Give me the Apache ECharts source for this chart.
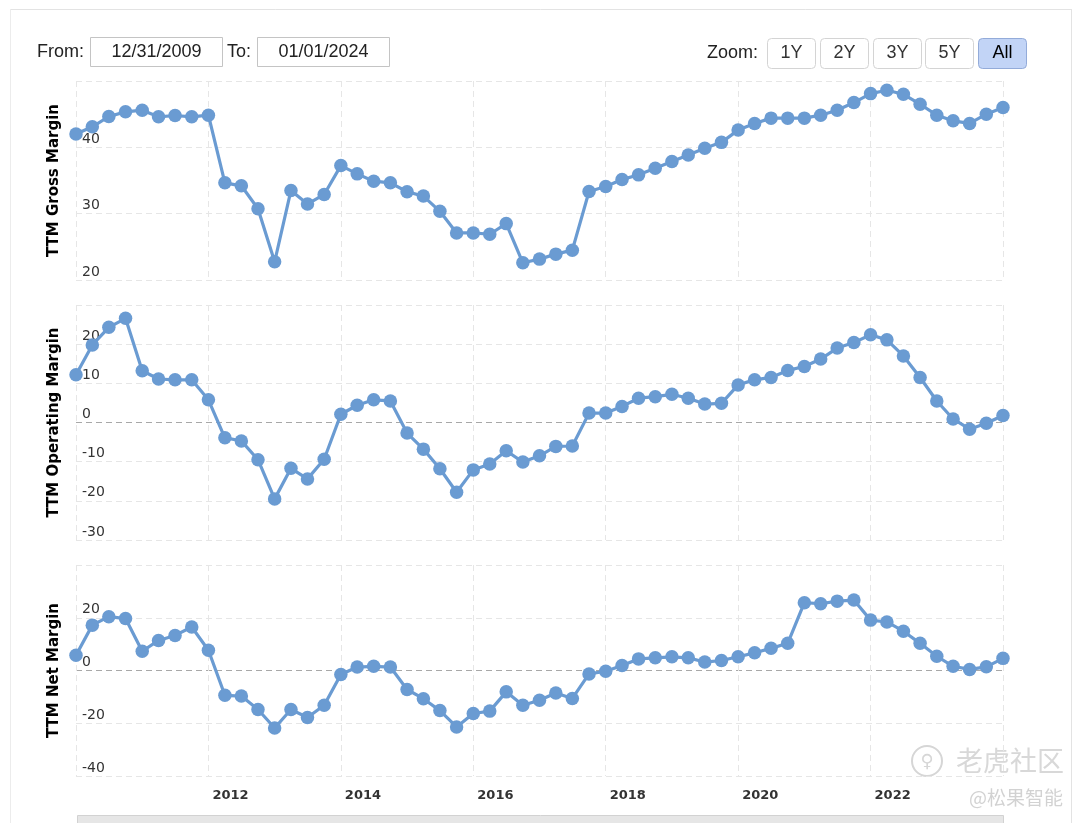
<!DOCTYPE html>
<html><head><meta charset="utf-8">
<script src="https://cdn.jsdelivr.net/npm/echarts@6/dist/echarts.min.js"></script>
<style>html,body{margin:0;padding:0;background:#fff}#c{width:1080px;height:823px}</style>
</head><body><div id="c"></div>
<script>
// Quarter-end dates
const dates = [
'2009-12-31',
'2010-03-31','2010-06-30','2010-09-30','2010-12-31',
'2011-03-31','2011-06-30','2011-09-30','2011-12-31',
'2012-03-31','2012-06-30','2012-09-30','2012-12-31',
'2013-03-31','2013-06-30','2013-09-30','2013-12-31',
'2014-03-31','2014-06-30','2014-09-30','2014-12-31',
'2015-03-31','2015-06-30','2015-09-30','2015-12-31',
'2016-03-31','2016-06-30','2016-09-30','2016-12-31',
'2017-03-31','2017-06-30','2017-09-30','2017-12-31',
'2018-03-31','2018-06-30','2018-09-30','2018-12-31',
'2019-03-31','2019-06-30','2019-09-30','2019-12-31',
'2020-03-31','2020-06-30','2020-09-30','2020-12-31',
'2021-03-31','2021-06-30','2021-09-30','2021-12-31',
'2022-03-31','2022-06-30','2022-09-30','2022-12-31',
'2023-03-31','2023-06-30','2023-09-30','2023-12-31'
];
const grossMargin = [
42.0,
43.1,44.65,45.35,45.6,
44.6,44.8,44.6,44.85,
34.65,34.2,30.75,22.75,
33.5,31.45,32.9,37.25,
36.0,34.9,34.65,33.3,
32.65,30.35,27.1,27.1,
26.9,28.5,22.6,23.15,
23.9,24.5,33.35,34.1,
35.15,35.85,36.85,37.85,
38.85,39.85,40.75,42.6,
43.6,44.4,44.4,44.4,
44.85,45.6,46.75,48.1,
48.6,48.0,46.5,44.85,
44.0,43.6,45.0,46.0
];
const operatingMargin = [
12.2,
19.8,24.3,26.6,13.2,
11.1,10.9,10.9,5.8,
-3.9,-4.7,-9.5,-19.5,
-11.7,-14.4,-9.4,2.1,
4.4,5.8,5.5,-2.7,
-6.8,-11.8,-17.8,-12.1,
-10.6,-7.2,-10.1,-8.5,
-6.1,-6.0,2.4,2.4,
4.1,6.2,6.6,7.2,
6.2,4.7,4.9,9.6,
10.9,11.5,13.3,14.3,
16.2,19.0,20.4,22.4,
21.1,17.0,11.5,5.5,
0.9,-1.7,-0.2,1.8
];
const netMargin = [
5.8,
17.2,20.4,19.7,7.3,
11.4,13.3,16.5,7.7,
-9.4,-9.7,-14.8,-21.8,
-14.8,-17.8,-13.2,-1.5,
1.3,1.6,1.3,-7.2,
-10.7,-15.2,-21.4,-16.3,
-15.4,-8.1,-13.2,-11.3,
-8.5,-10.6,-1.3,-0.3,
1.9,4.4,4.8,5.2,
4.8,3.2,3.8,5.2,
6.7,8.4,10.3,25.7,
25.3,26.3,26.7,19.1,
18.4,14.9,10.3,5.4,
1.6,0.4,1.4,4.6
];
const panelNames = ['TTM Gross Margin','TTM Operating Margin','TTM Net Margin'];
const yRanges = [[20,50,10],[-30,30,10],[-40,40,20]];
const zoomButtons = ['1Y','2Y','3Y','5Y','All'];
const fromDate = '12/31/2009';
const toDate = '01/01/2024';
const watermark1 = '老虎社区';
const watermark2 = '@松果智能';

// decimal year at the end of the given day
function toYear(s){
  const p = s.split('-').map(Number);
  const start = Date.UTC(p[0],0,1), end = Date.UTC(p[0]+1,0,1);
  return p[0] + (Date.UTC(p[0],p[1]-1,p[2]+1) - start)/(end-start);
}
const seriesData = [grossMargin, operatingMargin, netMargin];
const LINE = '#6a9bd2';
const GRIDC = '#e6e6e6';
const ZEROC = '#a8a8a8';
const grids = [
  {left:76, width:927, top:81, height:199},
  {left:76, width:927, top:305, height:235},
  {left:76, width:927, top:565, height:211}
];
grids.forEach(g=>{g.outerBoundsMode='none'; g.containLabel=false;});

const xAxes = grids.map((g,i)=>({
  type:'value', gridIndex:i, min:2010, max:2024, interval:2,
  axisLine:{show:false}, axisTick:{show:false},
  splitLine:{show:true, lineStyle:{color:GRIDC, type:[6,4], width:1}},
  axisLabel:{show:i===2, showMinLabel:false, showMaxLabel:false,
    formatter:v=>String(v), align:'left', padding:[0,0,0,4], margin:13,
    fontFamily:'DejaVu Sans', fontWeight:'bold', fontSize:13, color:'#333'}
}));
const yAxes = yRanges.map((r,i)=>{
  const n = Math.round((r[1]-r[0])/r[2])+1;
  const cols = [];
  for(let k=0;k<n;k++){ const v=r[0]+k*r[2]; cols.push(v===0?ZEROC:GRIDC); }
  return {
    type:'value', gridIndex:i, min:r[0], max:r[1], interval:r[2],
    name:panelNames[i], nameLocation:'middle', nameGap:14, nameRotate:90,
    nameTextStyle:{fontFamily:'DejaVu Sans', fontWeight:'bold', fontSize:15, color:'#000'},
    axisLine:{show:false}, axisTick:{show:false},
    splitLine:{show:true, lineStyle:{color:cols, type:[6,4], width:1}},
    axisLabel:{inside:true, showMaxLabel:false, margin:6, verticalAlign:'bottom',
      fontFamily:'DejaVu Sans', fontSize:14, color:'#333', padding:[0,0,1,0]}
  };
});
const series = seriesData.map((arr,i)=>({
  type:'line', xAxisIndex:i, yAxisIndex:i,
  data: dates.map((d,j)=>[toYear(d), arr[j]]),
  symbol:'circle', symbolSize:13.5, showSymbol:true, clip:false,
  lineStyle:{color:LINE, width:3.2}, itemStyle:{color:LINE},
  z:3
}));

const graphics = [];
// outer frame
graphics.push({type:'line', shape:{x1:10,y1:9.5,x2:1071,y2:9.5}, style:{stroke:'#e3e3e3', lineWidth:1}, silent:true});
graphics.push({type:'line', shape:{x1:10.5,y1:9,x2:10.5,y2:823}, style:{stroke:'#ececec', lineWidth:1}, silent:true});
graphics.push({type:'line', shape:{x1:1071.5,y1:9,x2:1071.5,y2:823}, style:{stroke:'#e3e3e3', lineWidth:1}, silent:true});
const ctlFont = '18px "Liberation Sans", Arial, sans-serif';
graphics.push({type:'text', style:{text:'From:', x:37, y:52, font:ctlFont, fill:'#222', align:'left', verticalAlign:'middle'}});
graphics.push({type:'rect', shape:{x:90.5,y:37.5,width:132,height:29}, style:{fill:'#fff', stroke:'#c4c4c4', lineWidth:1}});
graphics.push({type:'text', style:{text:fromDate, x:156.5, y:52, font:ctlFont, fill:'#222', align:'center', verticalAlign:'middle'}});
graphics.push({type:'text', style:{text:'To:', x:227, y:52, font:ctlFont, fill:'#222', align:'left', verticalAlign:'middle'}});
graphics.push({type:'rect', shape:{x:257.5,y:37.5,width:132,height:29}, style:{fill:'#fff', stroke:'#c4c4c4', lineWidth:1}});
graphics.push({type:'text', style:{text:toDate, x:323.5, y:52, font:ctlFont, fill:'#222', align:'center', verticalAlign:'middle'}});
graphics.push({type:'text', style:{text:'Zoom:', x:707, y:53, font:ctlFont, fill:'#222', align:'left', verticalAlign:'middle'}});
const bx = [767.5, 820.5, 873.5, 925.5, 978.5];
zoomButtons.forEach((b,k)=>{
  const sel = b==='All';
  graphics.push({type:'rect', shape:{x:bx[k], y:38.5, width:48, height:30, r:4},
    style:{fill: sel?'#c2d4f6':'#fff', stroke: sel?'#93abd9':'#d4d4d4', lineWidth:1}});
  graphics.push({type:'text', style:{text:b, x:bx[k]+24, y:53.5, font:ctlFont, fill: sel?'#000':'#333', align:'center', verticalAlign:'middle'}});
});
// navigator scrollbar strip
graphics.push({type:'rect', shape:{x:77.5, y:815.5, width:926, height:10}, style:{fill:'#e6e6e6', stroke:'#d2d2d2', lineWidth:1}});
// watermark
graphics.push({type:'circle', shape:{cx:927, cy:761, r:15}, style:{fill:'none', stroke:'#d6d6d6', lineWidth:2}});
graphics.push({type:'text', style:{text:'\u2640', x:927, y:762, font:'18px "DejaVu Sans"', fill:'#d6d6d6', align:'center', verticalAlign:'middle'}});
graphics.push({type:'text', style:{text:watermark1, x:1010, y:761, font:'27px "Noto Sans CJK SC"', fill:'#d8d8d8', align:'center', verticalAlign:'middle'}});
graphics.push({type:'text', style:{text:watermark2, x:1016, y:798, font:'19px "Noto Sans CJK SC"', fill:'#d2d2d2', align:'center', verticalAlign:'middle'}});

const chart = echarts.init(document.getElementById('c'), null, {renderer:'canvas'});
chart.setOption({
  animation:false,
  backgroundColor:'#fff',
  grid:grids, xAxis:xAxes, yAxis:yAxes, series:series,
  graphic:{elements:graphics}
});
</script></body></html>
